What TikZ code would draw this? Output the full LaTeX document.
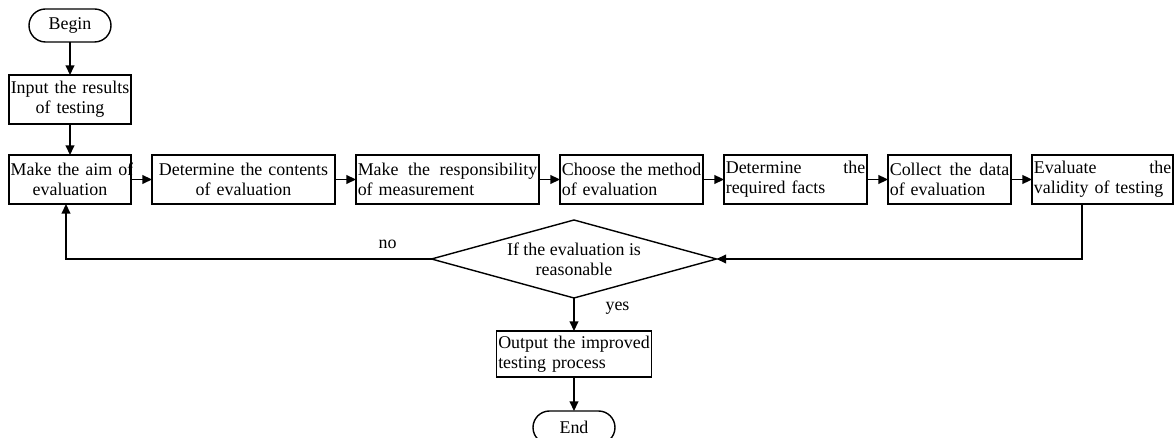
\documentclass[tikz,border=0pt]{standalone}
\usepackage{fontspec}
\setmainfont{Liberation Serif}
\usetikzlibrary{arrows.meta,positioning,shapes.geometric}
\newcommand\fillline[1]{\makebox[\hsize][s]{\spaceskip=0pt\relax #1}}
\tikzset{
    %Define standard arrow tip
    >={Triangle[length=5.5pt,width=5pt]},
    %Define style for boxes
    stepbox/.style={
           rectangle,
           draw=black, line width=0.8pt,
           text width=#1,
           inner xsep=1pt, inner ysep=0pt, outer sep=0pt,
           minimum height=0.98cm,
           font=\fontsize{10.2}{11.5}\selectfont,
           align=center},
    terminal/.style={
           rectangle,
           rounded corners=0.33cm,
           draw=black, line width=0.8pt,
           outer sep=0pt,
           minimum width=1.64cm,
           minimum height=0.66cm,
           font=\fontsize{10.2}{11.5}\selectfont},
    decision/.style={
           diamond,
           draw=black, line width=0.8pt,
           inner sep=0pt, outer sep=0pt,
           aspect=3.65,
           minimum width=5.70cm,
           minimum height=1.56cm,
           font=\fontsize{10.2}{11.5}\selectfont,
           align=center},
    % Define arrow style
    flow/.style={
           ->,
           line width=0.8pt},
    lbl/.style={font=\fontsize{10.2}{11.5}\selectfont}
}
\begin{document}
\begin{tikzpicture}[node distance=0.42cm]
\useasboundingbox (0,0) rectangle (23.52,-8.76);

 %nodes
\node[stepbox=2.37cm] (input) at (1.40,-1.99) {Input the results\\of testing};
\node[terminal, above=0.66cm of input] (begin) {Begin};
\node[stepbox=2.37cm, below=0.62cm of input] (aim) {\mbox{Make the aim of}\\evaluation};
\node[stepbox=3.59cm, right=of aim] (contents) {Determine the contents\\of evaluation};
\node[stepbox=3.59cm, align=left, right=of contents] (resp) {\fillline{Make the responsibility}\\of measurement};
\node[stepbox=2.79cm, align=left, right=of resp] (method) {\fillline{Choose the method}\\of evaluation};
\node[stepbox=2.79cm, align=left, right=of method] (facts) {\fillline{Determine the}\\required facts};
\node[stepbox=2.39cm, align=left, right=of facts] (collect) {\fillline{Collect the data}\\of evaluation};
\node[stepbox=2.75cm, align=left, right=of collect] (valid) {\fillline{Evaluate the}\\validity of testing};
\node[decision] (decide) at (11.48,-5.18) {If the evaluation is\\reasonable};
\node[stepbox=3.03cm, align=left, minimum height=0.92cm, below=0.66cm of decide] (output) {\fillline{Output the improved}\\testing process};
\node[terminal, below=0.68cm of output] (end) {End};

 %connectors
\draw[flow] (begin) -- (input);
\draw[flow] (input) -- (aim);
\draw[flow] (aim) -- (contents);
\draw[flow] (contents) -- (resp);
\draw[flow] (resp) -- (method);
\draw[flow] (method) -- (facts);
\draw[flow] (facts) -- (collect);
\draw[flow] (collect) -- (valid);
\draw[flow] ([xshift=-0.41cm]valid.south) |- (decide.east);
\draw[flow] (decide.west) -- node[lbl, above=2pt, pos=0.12]{no} ([xshift=-0.08cm]aim.south |- decide.west) -- ([xshift=-0.08cm]aim.south);
\draw[flow] (decide) -- node[lbl, pos=0.3, right=0.5cm]{yes} (output);
\draw[flow] (output) -- (end);
\end{tikzpicture}
\end{document}
